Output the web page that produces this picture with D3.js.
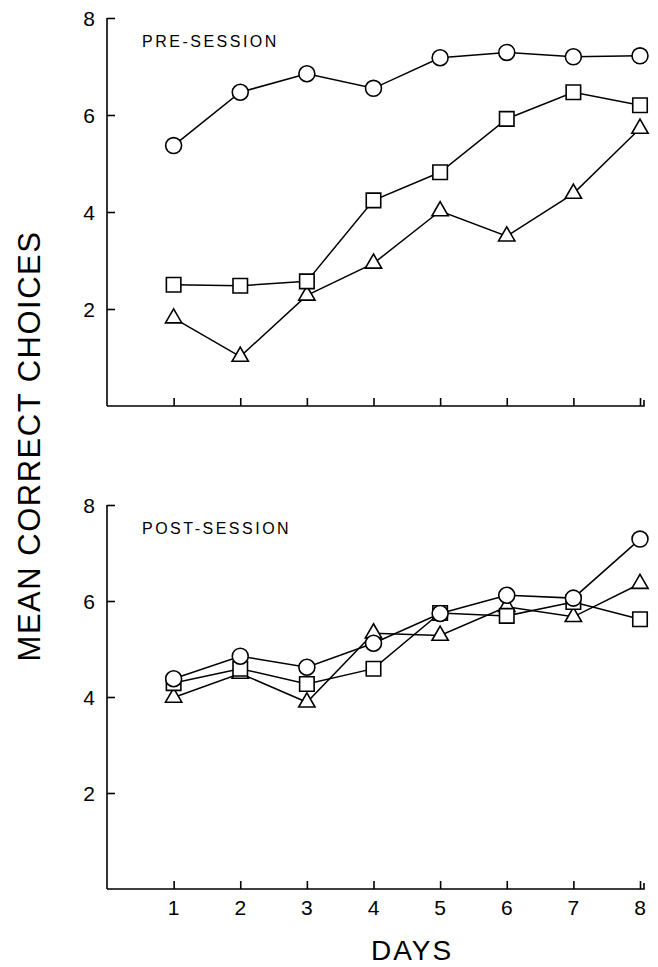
<!DOCTYPE html>
<html>
<head>
<meta charset="utf-8">
<script src="https://cdn.jsdelivr.net/npm/d3@7"></script>
<style>
  body { margin: 0; background: #fff; }
  svg { display: block; font-family: "Liberation Sans", Arial, sans-serif; }
</style>
</head>
<body>
<svg id="chart" width="658" height="967"></svg>
<script>
// days on the x axis
const days = [1, 2, 3, 4, 5, 6, 7, 8];
const yTicks = [2, 4, 6, 8];

// pre-session means
const preCircle   = [5.37, 6.47, 6.85, 6.55, 7.18, 7.29, 7.20, 7.22];
const preSquare   = [2.50, 2.48, 2.57, 4.24, 4.82, 5.92, 6.47, 6.20];
const preTriangle = [1.81, 1.02, 2.28, 2.94, 4.02, 3.50, 4.38, 5.72];

// post-session means
const postCircle   = [4.38, 4.85, 4.62, 5.12, 5.74, 6.12, 6.06, 7.29];
const postSquare   = [4.29, 4.59, 4.27, 4.59, 5.75, 5.69, 5.98, 5.62];
const postTriangle = [3.99, 4.49, 3.89, 5.33, 5.28, 5.88, 5.67, 6.36];

const svg = d3.select("#chart");

const x = d3.scaleLinear().domain([0, 8]).range([107, 640]);

function drawPanel(top, bottom, label, series) {
  const y = d3.scaleLinear().domain([0, 8]).range([bottom, top]);
  const g = svg.append("g");

  // y axis, ticks pointing inward
  g.append("g")
    .attr("transform", "translate(" + x(0) + ",0)")
    .call(d3.axisRight(y).tickValues(yTicks).tickSize(8).tickFormat(""))
    .call(a => a.select(".domain").attr("d", "M0," + y(0) + "V" + y(8)))
    .call(a => a.selectAll("line,path").attr("stroke", "#000").attr("stroke-width", 1.6));

  g.selectAll(".ylab")
    .data(yTicks)
    .enter()
    .append("text")
    .attr("x", 95)
    .attr("y", d => y(d))
    .attr("dy", "0.36em")
    .attr("text-anchor", "end")
    .style("font-size", "21px")
    .text(d => d);

  // x axis, ticks pointing up
  g.append("g")
    .attr("transform", "translate(0," + y(0) + ")")
    .call(d3.axisTop(x).tickValues(days).tickSize(8).tickFormat(""))
    .call(a => a.select(".domain").attr("d", "M" + x(0) + ",0H" + (x(8) + 4) + "V-6"))
    .call(a => a.selectAll("line,path").attr("stroke", "#000").attr("stroke-width", 1.6));

  g.append("text")
    .attr("x", 142)
    .attr("y", top + 29)
    .style("font-size", "16px")
    .style("letter-spacing", "2.5px")
    .text(label);

  const line = d3.line().x((d, i) => x(days[i])).y(d => y(d));

  series.forEach(s => {
    g.append("path")
      .datum(s.values)
      .attr("d", line)
      .attr("fill", "none")
      .attr("stroke", "#000")
      .attr("stroke-width", 1.5);
  });

  series.forEach(s => {
    const sym = d3.symbol().type(s.shape).size(s.size);
    g.selectAll(null)
      .data(s.values)
      .enter()
      .append("path")
      .attr("d", sym)
      .attr("transform", (d, i) => "translate(" + x(days[i]) + "," + y(d) + ")")
      .attr("fill", "#fff")
      .attr("stroke", "#000")
      .attr("stroke-width", 1.6);
  });
}

drawPanel(18, 406, "PRE-SESSION", [
  { values: preTriangle, shape: d3.symbolTriangle, size: 115 },
  { values: preSquare, shape: d3.symbolSquare, size: 210 },
  { values: preCircle, shape: d3.symbolCircle, size: 200 }
]);

drawPanel(505, 889, "POST-SESSION", [
  { values: postTriangle, shape: d3.symbolTriangle, size: 115 },
  { values: postSquare, shape: d3.symbolSquare, size: 210 },
  { values: postCircle, shape: d3.symbolCircle, size: 200 }
]);

// day labels under the lower panel
svg.selectAll(".xlab")
  .data(days)
  .enter()
  .append("text")
  .attr("x", d => x(d))
  .attr("y", 915)
  .attr("text-anchor", "middle")
  .style("font-size", "21px")
  .text(d => d);

svg.append("text")
  .attr("x", 412)
  .attr("y", 960)
  .attr("text-anchor", "middle")
  .style("font-size", "28px")
  .style("letter-spacing", "2px")
  .text("DAYS");

svg.append("text")
  .attr("transform", "translate(40,446) rotate(-90)")
  .attr("text-anchor", "middle")
  .style("font-size", "31px")
  .style("letter-spacing", "1.5px")
  .text("MEAN CORRECT CHOICES");
</script>
</body>
</html>
